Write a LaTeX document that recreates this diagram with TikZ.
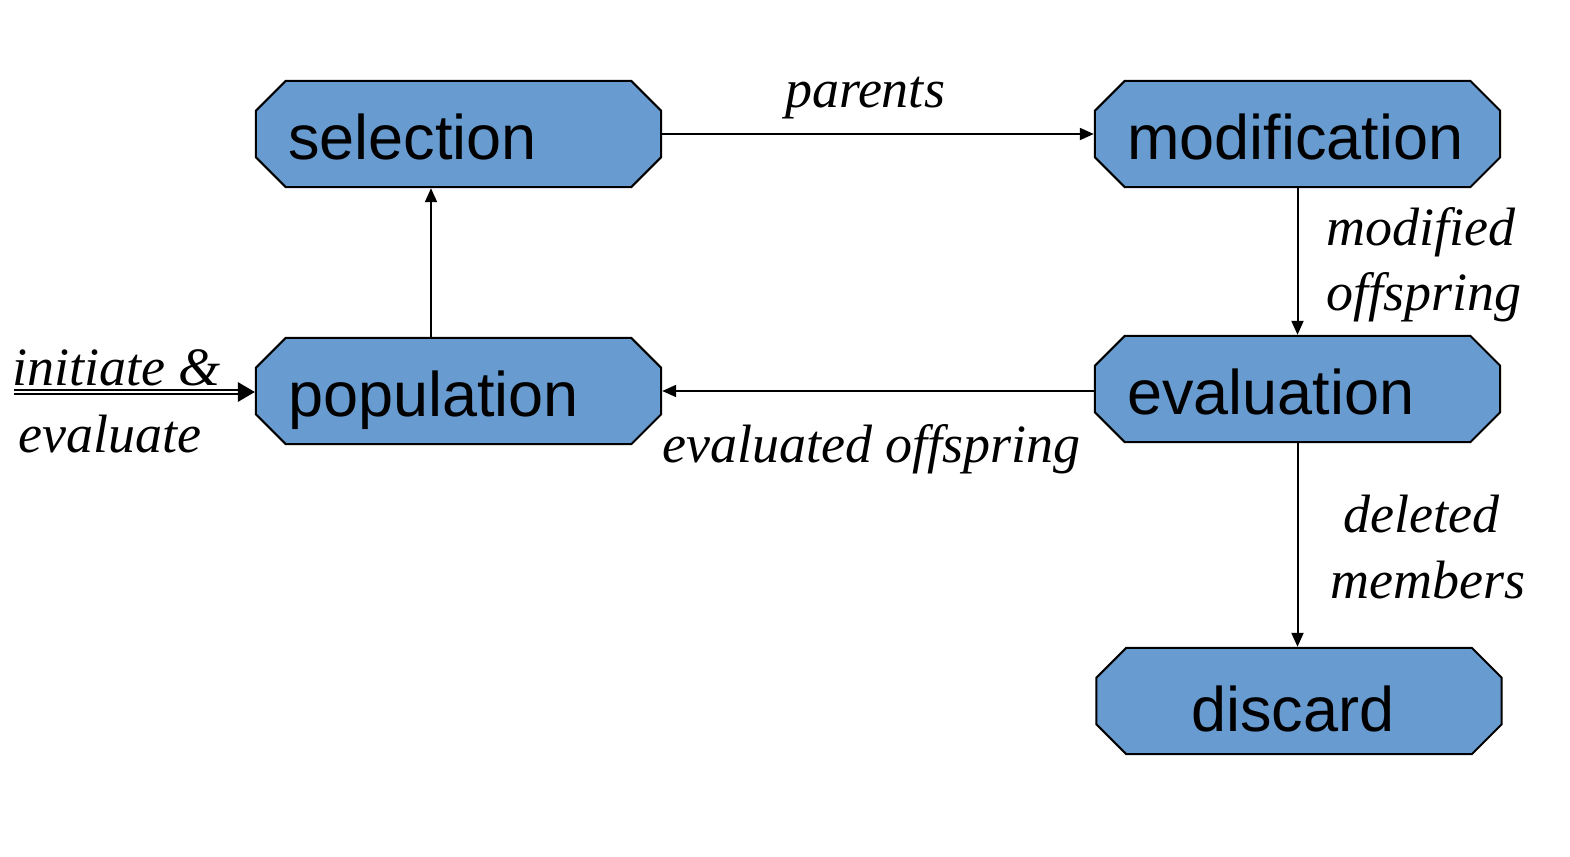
\documentclass[tikz,border=0pt]{standalone}
\usepackage{fontspec}
\setmainfont{Liberation Serif}
\newfontfamily\boxfont{Liberation Sans}
\usetikzlibrary{arrows.meta,backgrounds}
\definecolor{boxblue}{RGB}{104,155,208}
\hyphenpenalty=10000
\exhyphenpenalty=10000
\begin{document}
\begin{tikzpicture}[x=1pt,y=-1pt,
  box/.style={rectangle, minimum width=405pt, minimum height=106pt, inner xsep=32pt, inner ysep=0pt,
    text width=341pt, align=left, font=\boxfont\fontsize{63}{70}\selectfont, text height=55pt, text depth=5pt},
  lbl/.style={font=\itshape\fontsize{54}{60}\selectfont, inner sep=0pt},
  octa/.style={fill=boxblue, draw=black, line width=2pt, line join=miter},
  conn/.style={line width=2pt, -{Triangle[length=14pt,width=12pt]}, shorten >=1pt, shorten <=1pt}]
\useasboundingbox (0,0) rectangle (1570,856);
\node[box] (sel) at (458.5,134) {selection};
\node[box] (mod) at (1297.5,134) {modification};
\node[box] (pop) at (458.5,391) {population};
\node[box] (eva) at (1297.5,389) {evaluation};
\node[box, align=center, text height=60pt, text depth=0pt] (dis) at (1299,701) {\hspace*{-12pt}discard};
\begin{scope}[on background layer]
\foreach \n in {sel,mod,pop,eva,dis}{
  \draw[octa] ([xshift=30pt]\n.north west) -- ([xshift=-30pt]\n.north east) -- ([yshift=-30pt]\n.north east)
    -- ([yshift=30pt]\n.south east) -- ([xshift=-30pt]\n.south east) -- ([xshift=30pt]\n.south west)
    -- ([yshift=30pt]\n.south west) -- ([yshift=-30pt]\n.north west) -- cycle;
}
\end{scope}
\draw[conn] (sel.east) -- (mod.west);
\draw[conn] (mod.south) -- (eva.north);
\draw[conn] (eva.west |- pop.east) -- (pop.east);
\draw[conn] ([xshift=-27.5pt]pop.north) -- ([xshift=-27.5pt]sel.south);
\draw[conn] (eva.south) -- (eva.south |- dis.north);
\coordinate (init) at (14,392);
\draw[double, double distance=2.5pt, line width=1.3pt, shorten >=15pt] (init) -- (init -| pop.west);
\fill ([xshift=-1pt]init -| pop.west) -- ++(-17,-10) -- ++(0,20) -- cycle;
\node[lbl, anchor=base] (lpar) at (865,108) {parents};
\node[lbl, anchor=base west] (lmod1) at (1326,245) {modified};
\node[lbl, anchor=base west] (lmod2) at (1326,310) {offspring};
\node[lbl, anchor=base west] (lini1) at (12,385) {initiate \&};
\node[lbl, anchor=base west] (lini2) at (18,452) {evaluate};
\node[lbl, anchor=base west] (levo) at (662,462) {evaluated offspring};
\node[lbl, anchor=base west] (ldel1) at (1343,532) {deleted};
\node[lbl, anchor=base west] (ldel2) at (1330,598) {members};
\end{tikzpicture}
\end{document}
